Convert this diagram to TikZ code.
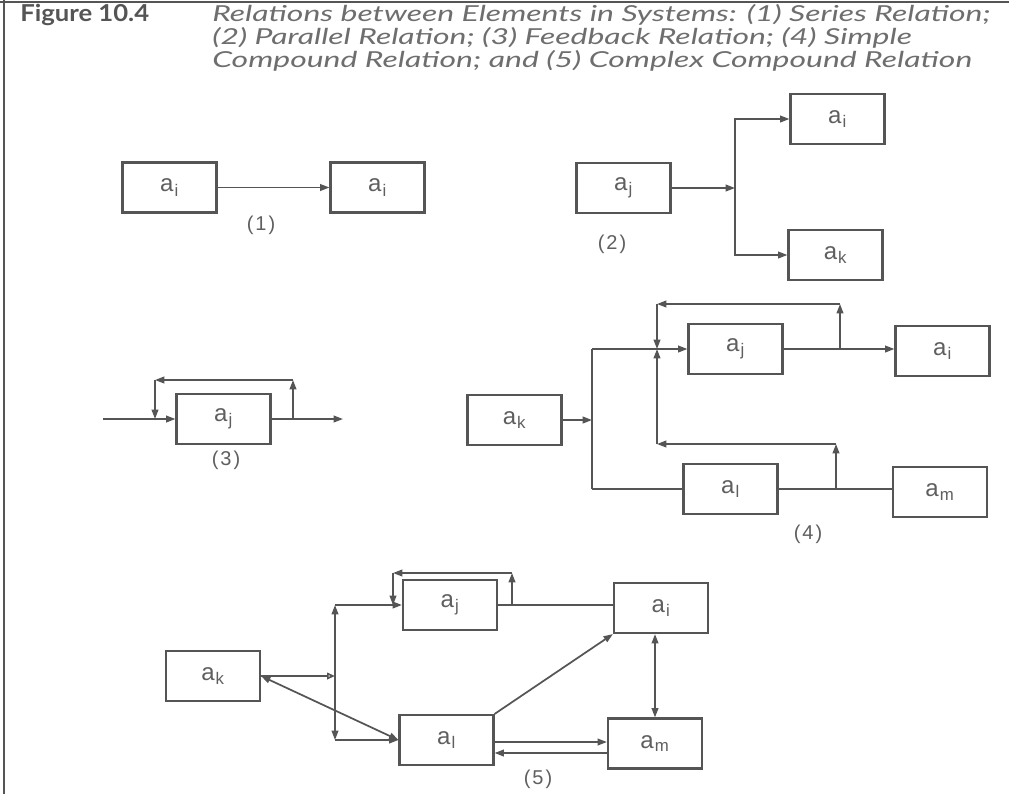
\documentclass[tikz,border=0pt]{standalone}
\usepackage{fontspec}
\setmainfont{Liberation Sans}
\newfontfamily\titlefont[FakeStretch=1.45]{Lato}
\newfontfamily\figfont[FakeStretch=1.1]{Lato}
\newfontfamily\lblfont{Liberation Sans}
\usetikzlibrary{arrows.meta}
\definecolor{lc}{RGB}{85,85,85}
\definecolor{tc}{RGB}{95,95,95}
\definecolor{hc}{RGB}{110,110,110}
\newcommand{\lab}[1]{a\kern0.8pt\textsubscript{#1}}
\newcommand{\pnum}[1]{(\kern1.5pt#1\kern1.5pt)}
\begin{document}
\begin{tikzpicture}[x=0.75pt,y=-0.75pt,
  ln/.style={draw=lc, line width=1.3pt},
  arr/.style={ln, -{Triangle[length=7pt,width=5pt]}},
  oarr/.style={ln, -{Triangle[open,length=6pt,width=5pt]}},
  darr/.style={ln, {Triangle[length=7pt,width=5pt]}-{Triangle[length=7pt,width=5pt]}},
  box/.style={draw=lc, line width=1.6pt, minimum width=70.5pt, minimum height=37.5pt, inner sep=0pt, font=\lblfont\fontsize{18}{18}\selectfont, text=tc},
  num/.style={font=\lblfont\fontsize{15}{15}\selectfont, text=tc},
  ttl/.style={font=\titlefont\itshape\fontsize{16.5}{16.5}\selectfont, text=hc, anchor=base west, inner sep=0pt}
]
\useasboundingbox (0,0) rectangle (1009,794);
\fill[white] (0,0) rectangle (1009,794);
% frame
\coordinate (fa) at (0,2);
\coordinate (fb) at (1009,2);
\coordinate (fc) at (4,0);
\coordinate (fd) at (4,794);
\draw[lc, line width=1.2pt] (fa) -- (fb);
\draw[lc, line width=1.2pt] (fc) -- (fd);
% title
\node[ttl, font=\figfont\bfseries\fontsize{17.5}{17.5}\selectfont, text=lc] (fig) at (20,21) {Figure 10.4};
\node[ttl] (t1) at (212,21) {Relations between Elements in Systems: (1) Series Relation;};
\node[ttl] (t2) at (212,44) {(2) Parallel Relation; (3) Feedback Relation; (4) Simple};
\node[ttl] (t3) at (212,67) {Compound Relation; and (5) Complex Compound Relation};

% (1)
\node[box] (A1) at (169.5,187.5) {\lab{i}};
\node[box] (B1) at (377.5,187.5) {\lab{i}};
\draw[arr] (A1.east) -- (B1.west);
\node[num] (n1) at (261,225) {\pnum{1}};

% (2)
\node[box] (J2) at (623.5,188) {\lab{j}};
\node[box] (I2) at (837.5,119) {\lab{i}};
\node[box] (K2) at (835.5,255) {\lab{k}};
\coordinate (j2) at (735,188);
\draw[arr] (J2.east) -- (j2);
\draw[arr] (j2) |- (I2.west);
\draw[arr] (j2) |- (K2.west);
\node[num] (n2) at (612,244) {\pnum{2}};

% (3)
\node[box] (J3) at (223.5,419) {\lab{j}};
\coordinate (in3) at (103,419);
\coordinate (out3) at (343,419);
\coordinate (fr3) at (293,419);
\coordinate (tr3) at (293,380);
\coordinate (tl3) at (155,380);
\coordinate (fl3) at (155,419);
\draw[arr] (in3) -- (J3.west);
\draw[arr] (J3.east) -- (out3);
\draw[arr] (fr3) -- (tr3);
\draw[arr] (tr3) -- (tl3);
\draw[arr] (tl3) -- (fl3);
\node[num] (n3) at (226,460) {\pnum{3}};

% (4)
\node[box] (K4) at (514.5,420) {\lab{k}};
\node[box] (J4) at (735.5,349) {\lab{j}};
\node[box] (I4) at (942.5,351) {\lab{i}};
\node[box] (L4) at (730.5,489) {\lab{l}};
\node[box] (M4) at (940,492) {\lab{m}};
\coordinate (j4a) at (592,420);
\coordinate (j4t) at (592,349);
\coordinate (j4b) at (592,489);
\coordinate (j4c) at (657,349);
\coordinate (f4a) at (840,349);
\coordinate (f4b) at (840,304);
\coordinate (f4c) at (657,304);
\coordinate (f4d) at (836,489);
\coordinate (f4e) at (836,444);
\coordinate (f4f) at (657,444);
\draw[arr] (K4.east) -- (j4a);
\draw[ln] (j4t) -- (j4b);
\draw[ln] (j4t) -- (j4c);
\draw[arr] (j4c) -- (J4.west);
\draw[arr] (J4.east) -- (J4.east -| I4.west);
\draw[arr] (f4a) -- (f4b);
\draw[arr] (f4b) -- (f4c);
\draw[arr] (f4c) -- (j4c);
\draw[arr] (f4d) -- (f4e);
\draw[arr] (f4e) -- (f4f);
\draw[arr] (f4f) -- (j4c);
\draw[ln] (j4b) -- (L4.west);
\draw[ln] (L4.east) -- (L4.east -| M4.west);
\node[num] (n4) at (808,534) {\pnum{4}};

% (5)
\node[box] (K5) at (213,676) {\lab{k}};
\node[box] (J5) at (450,605) {\lab{j}};
\node[box] (I5) at (661,608) {\lab{i}};
\node[box] (L5) at (446.5,740) {\lab{l}};
\node[box] (M5) at (655,743.5) {\lab{m}};
\coordinate (j5m) at (335,676);
\coordinate (j5t) at (335,605);
\coordinate (j5b) at (335,740);
\coordinate (s5a) at (512,605);
\coordinate (s5b) at (512,573);
\coordinate (s5c) at (393,573);
\coordinate (s5d) at (393,605);
\coordinate (r1) at (0,742);
\coordinate (r2) at (0,753);
\draw[oarr] (K5.east) -- (j5m);
\draw[darr] (K5.east) -- (L5.west);
\draw[darr] (j5t) -- (j5b);
\draw[arr] (j5t) -- (J5.west);
\draw[arr] (j5b) -- (L5.west);
\draw[arr] (s5a) -- (s5b);
\draw[arr] (s5b) -- (s5c);
\draw[arr] (s5c) -- (s5d);
\draw[ln] (J5.east) -- (J5.east -| I5.west);
\draw[arr] (L5.north east) -- (I5.south west);
\draw[darr] (M5.north) -- (M5.north |- I5.south);
\draw[arr] (L5.east |- r1) -- (M5.west |- r1);
\draw[arr] (M5.west |- r2) -- (L5.east |- r2);
\node[num] (n5) at (538,779) {\pnum{5}};
\end{tikzpicture}
\end{document}
